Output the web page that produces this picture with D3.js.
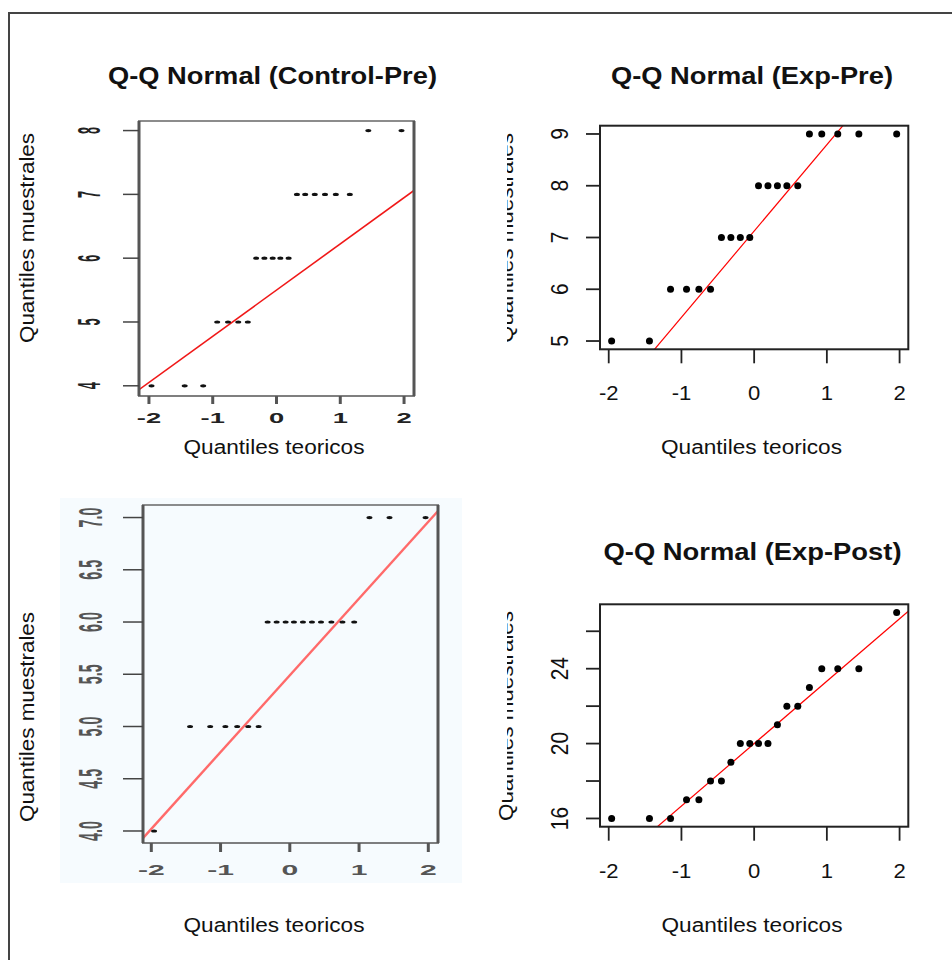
<!DOCTYPE html>
<html><head><meta charset="utf-8">
<script src="https://cdn.jsdelivr.net/npm/d3@7"></script>
<style>
body{margin:0;background:#fff}
svg{display:block}
text{font-family:"Liberation Sans",Arial,Helvetica,sans-serif}
</style>
</head><body>
<svg id="chart" width="952" height="960"></svg>
<script>
// ---------- data ----------
const theoreticalQuantiles = [-1.96,-1.44,-1.15,-0.93,-0.76,-0.60,-0.45,-0.32,-0.19,-0.06,
                               0.06,0.19,0.32,0.45,0.60,0.76,0.93,1.15,1.44,1.96];
const controlPre  = [4,4,4,5,5,5,5,6,6,6,6,6,7,7,7,7,7,7,8,8];
const expPre      = [5,5,6,6,6,6,7,7,7,7,8,8,8,8,8,9,9,9,9,9];
const controlPost = [4,5,5,5,5,5,5,6,6,6,6,6,6,6,6,6,6,7,7,7];
const expPost     = [16,16,16,17,17,18,18,19,20,20,20,20,21,22,22,23,24,24,24,27];

// reference lines: [intercept, slope]
const refLineControlPre  = [5.50, 0.724];
const refLineExpPre      = [7.125, 1.668];
const refLineControlPost = [5.49, 0.735];
const refLineExpPost     = [20.0, 3.336];

const titles = ["Q-Q Normal (Control-Pre)", "Q-Q Normal (Exp-Pre)", "", "Q-Q Normal (Exp-Post)"];
const xAxisLabel = "Quantiles teoricos";
const yAxisLabel = "Quantiles muestrales";

const xTicks = [-2,-1,0,1,2];
const yTicksControlPre  = [4,5,6,7,8];
const yTicksExpPre      = [5,6,7,8,9];
const yTicksControlPost = [4.0,4.5,5.0,5.5,6.0,6.5,7.0];
const yTicksExpPost     = [16,18,20,22,24,26];
const yTickLabelsControlPost = ["4.0","4.5","5.0","5.5","6.0","6.5","7.0"];
const yTickLabelsExpPost = ["16","","20","","24",""];

// ---------- drawing ----------
const svg = d3.select("#chart");

// outer frame
svg.append("path").attr("d","M9,965 V13 H960").attr("fill","none")
   .attr("stroke","#444").attr("stroke-width",2);

let clipId = 0;
function newClip(rects){
  const id = "clip" + (clipId++);
  const cp = svg.append("clipPath").attr("id", id);
  rects.forEach(r => cp.append("rect").attr("x",r[0]).attr("y",r[1]).attr("width",r[2]).attr("height",r[3]));
  return "url(#" + id + ")";
}

function drawPanel(p){
  const g = svg.append("g");
  const x = d3.scaleLinear().domain(p.xDom).range([p.box[0], p.box[2]]);
  const y = d3.scaleLinear().domain(p.yDom).range([p.box[3], p.box[1]]);
  const [x0,y0,x1,y1] = p.box;

  if (p.bg) g.append("rect").attr("x",p.bg[0]).attr("y",p.bg[1]).attr("width",p.bg[2]).attr("height",p.bg[3]).attr("fill",p.bgColor);

  // reference line
  const clip = newClip([[x0,y0,x1-x0,y1-y0]]);
  const [a,b] = p.line;
  g.append("line").attr("clip-path",clip)
    .attr("x1",x(p.xDom[0])).attr("y1",y(a+b*p.xDom[0]))
    .attr("x2",x(p.xDom[1])).attr("y2",y(a+b*p.xDom[1]))
    .attr("stroke",p.lineColor).attr("stroke-width",p.lineWidth);

  // points
  const pts = g.append("g");
  if (p.stretched){
    pts.selectAll("ellipse").data(p.values).join("ellipse")
      .attr("cx",(d,i)=>x(theoreticalQuantiles[i])).attr("cy",d=>y(d))
      .attr("rx",3).attr("ry",1.6).attr("fill","#111");
  } else {
    pts.selectAll("circle").data(p.values).join("circle")
      .attr("cx",(d,i)=>x(theoreticalQuantiles[i])).attr("cy",d=>y(d))
      .attr("r",3.5).attr("fill","#000");
  }

  // box
  if (p.stretched){
    g.append("line").attr("x1",x0-1).attr("x2",x1+1).attr("y1",y0).attr("y2",y0).attr("stroke","#666").attr("stroke-width",1.5);
    g.append("line").attr("x1",x0-1).attr("x2",x1+1).attr("y1",y1).attr("y2",y1).attr("stroke","#555").attr("stroke-width",1.5);
    g.append("line").attr("x1",x0).attr("x2",x0).attr("y1",y0).attr("y2",y1).attr("stroke","#555").attr("stroke-width",3);
    g.append("line").attr("x1",x1).attr("x2",x1).attr("y1",y0).attr("y2",y1).attr("stroke","#555").attr("stroke-width",3);
  } else {
    g.append("rect").attr("x",x0).attr("y",y0).attr("width",x1-x0).attr("height",y1-y0)
      .attr("fill","none").attr("stroke","#222").attr("stroke-width",2);
  }

  // x axis ticks & labels
  const xt = g.append("g");
  xTicks.forEach(t=>{
    xt.append("line").attr("x1",x(t)).attr("x2",x(t)).attr("y1",y1).attr("y2",y1+p.xTickLen)
      .attr("stroke",p.stretched?"#555":"#222").attr("stroke-width",p.stretched?3:1.8);
    const tx = xt.append("text").text(t).attr("text-anchor","middle")
      .attr("fill",p.tickColor).attr("font-size",p.tickFont)
      .attr("font-weight",p.stretched?"bold":"normal");
    tx.attr("transform",`translate(${x(t)},${p.xTickBase}) scale(${p.xTickScale[0]},${p.xTickScale[1]})`);
  });

  // y axis ticks & labels
  const yt = g.append("g");
  p.yTicks.forEach((t,i)=>{
    yt.append("line").attr("x1",x0-p.yTickLen).attr("x2",x0).attr("y1",y(t)).attr("y2",y(t))
      .attr("stroke",p.stretched?"#444":"#222").attr("stroke-width",p.stretched?1.5:1.8);
    const lab = p.yTickLabels ? p.yTickLabels[i] : String(t);
    if (!lab) return;
    yt.append("text").text(lab).attr("text-anchor","middle")
      .attr("fill",p.tickColor).attr("font-size",p.tickFont)
      .attr("font-weight",p.stretched?"bold":"normal")
      .attr("transform",`translate(${p.yTickBase},${y(t)}) scale(${p.yTickScale[0]},${p.yTickScale[1]}) rotate(-90)`);
  });

  // title
  if (p.title){
    g.append("text").text(p.title).attr("x",p.titleX).attr("y",p.titleY)
      .attr("text-anchor","middle").attr("font-weight","bold").attr("font-size",24)
      .attr("fill","#111").attr("textLength",p.titleLen).attr("lengthAdjust","spacingAndGlyphs");
  }
  // x label
  g.append("text").text(xAxisLabel).attr("x",p.xLabX).attr("y",p.xLabY)
    .attr("text-anchor","middle").attr("font-size",20).attr("fill","#111")
    .attr("textLength",181).attr("lengthAdjust","spacingAndGlyphs");
  // y label (optionally clipped, clip applied on an untransformed wrapper)
  const ylg = g.append("g");
  if (p.yLabClip) ylg.attr("clip-path", newClip(p.yLabClip));
  ylg.append("text").text(yAxisLabel).attr("text-anchor","middle").attr("font-size",20)
    .attr("fill","#111").attr("textLength",210).attr("lengthAdjust","spacingAndGlyphs")
    .attr("transform",`translate(${p.yLabX},${p.yLabY}) rotate(-90)`);
}

const panels = [
  { values: controlPre, line: refLineControlPre, yTicks: yTicksControlPre, title: titles[0],
    stretched: true, box:[139,121,414,396], xDom:[-2.156,2.156], yDom:[3.84,8.15],
    lineColor:"#f01818", lineWidth:1.6, tickColor:"#222", tickFont:14,
    xTickLen:8, xTickBase:423, xTickScale:[1.95,1.0],
    yTickLen:16, yTickBase:100, yTickScale:[2.2,0.9],
    titleX:272.5, titleY:84, titleLen:329,
    xLabX:274, xLabY:454, yLabX:34, yLabY:238 },
  { values: expPre, line: refLineExpPre, yTicks: yTicksExpPre, title: titles[1],
    stretched: false, box:[600,125.7,908.3,349.3], xDom:[-2.12,2.12], yDom:[4.84,9.16],
    lineColor:"#ff0000", lineWidth:1.2, tickColor:"#111", tickFont:21,
    xTickLen:14, xTickBase:400, xTickScale:[1.05,1],
    yTickLen:14, yTickBase:568, yTickScale:[1.12,1],
    titleX:752, titleY:84, titleLen:282,
    xLabX:751.5, xLabY:454, yLabX:513, yLabY:238,
    yLabClip:[[507,110,30,260]] },
  { values: controlPost, line: refLineControlPost, yTicks: yTicksControlPost, yTickLabels: yTickLabelsControlPost, title: titles[2],
    stretched: true, box:[143,505,438,843], xDom:[-2.12,2.14], yDom:[3.885,7.12],
    bg:[60,498,402,385], bgColor:"#f6fbfe",
    lineColor:"#ff6a6a", lineWidth:2.4, tickColor:"#555", tickFont:14,
    xTickLen:9, xTickBase:875, xTickScale:[2.15,1.0],
    yTickLen:20, yTickBase:102, yTickScale:[2.35,1.02],
    xLabX:274, xLabY:932, yLabX:34, yLabY:717 },
  { values: expPost, line: refLineExpPost, yTicks: yTicksExpPost, yTickLabels: yTickLabelsExpPost, title: titles[3],
    stretched: false, box:[600,604.3,908.3,826.7], xDom:[-2.12,2.12], yDom:[15.56,27.44],
    lineColor:"#ff0000", lineWidth:1.2, tickColor:"#111", tickFont:21,
    xTickLen:14, xTickBase:878, xTickScale:[1.05,1],
    yTickLen:14, yTickBase:568, yTickScale:[1.12,1],
    titleX:752.5, titleY:560, titleLen:298,
    xLabX:752, xLabY:932, yLabX:513, yLabY:716,
    yLabClip:[[507,590,30,260],[488,799,45,35]] }
];
panels.forEach(drawPanel);
</script>
</body></html>
